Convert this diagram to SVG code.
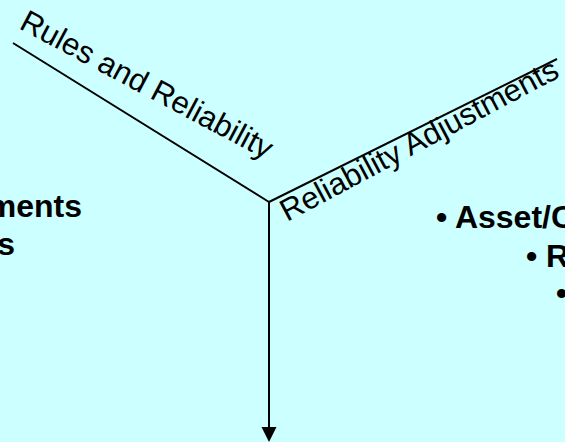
<svg xmlns="http://www.w3.org/2000/svg" width="565" height="442" viewBox="0 0 565 442">
  <style>
    .axis { stroke: #000; stroke-width: 2; fill: none; }
    .label { font-family: "Liberation Sans", Arial, sans-serif; font-size: 31px; fill: #000; }
    .bullet { font-family: "Liberation Sans", Arial, sans-serif; font-size: 32px; font-weight: bold; fill: #000; }
  </style>
  <rect width="565" height="442" fill="#CCFFFF"/>

  <!-- three axes meeting at the centre -->
  <g id="connectors">
    <line class="axis" x1="13" y1="43" x2="269" y2="202"/>
    <line class="axis" x1="269" y1="202" x2="557" y2="59"/>
    <line class="axis" x1="269" y1="202" x2="269" y2="428"/>
    <polygon points="261.5,427 276.5,427 269,442" fill="#000"/>
  </g>

  <!-- axis titles -->
  <g id="axis-rules">
    <text class="label" transform="translate(18,28) rotate(28)">Rules and Reliability</text>
  </g>
  <g id="axis-adjustments">
    <text class="label" transform="translate(287,222) rotate(-28)">Reliability Adjustments</text>
  </g>

  <!-- left column text -->
  <g id="left-list">
    <text class="bullet" x="82" y="216.5" text-anchor="end">ments</text>
    <text class="bullet" x="15" y="255" text-anchor="end">s</text>
  </g>

  <!-- right column bullet list -->
  <g id="right-list">
    <text class="bullet" x="436" y="227.5">• Asset/C</text>
    <text class="bullet" x="526" y="266.5">• R</text>
    <text class="bullet" x="556" y="304">•</text>
  </g>
</svg>
